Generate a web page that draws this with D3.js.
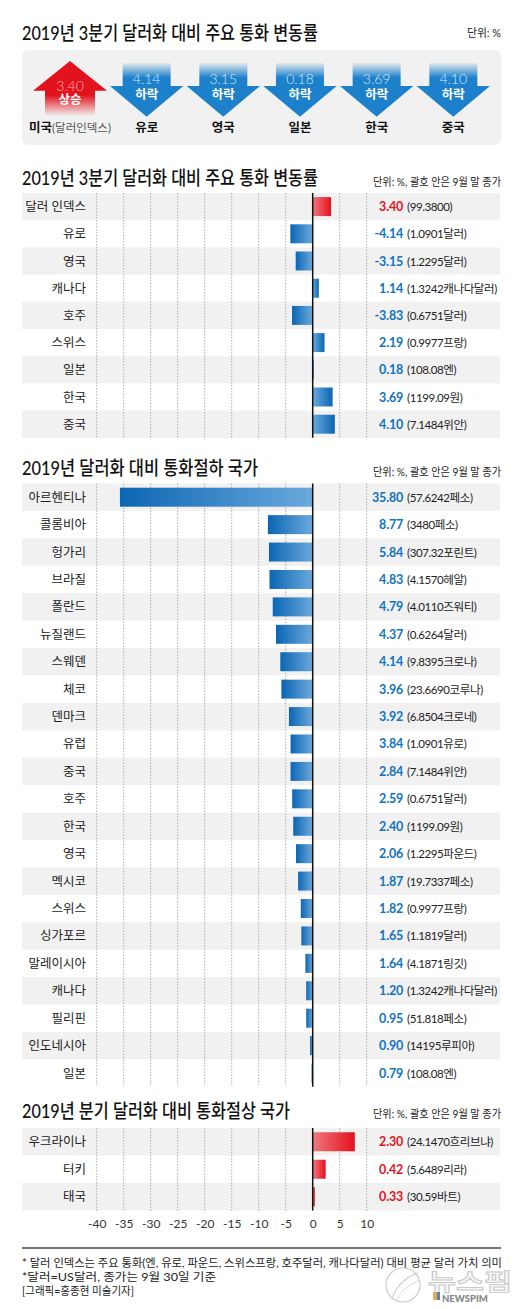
<!DOCTYPE html>
<html><head><meta charset="utf-8">
<script src="https://cdn.jsdelivr.net/npm/d3@7"></script>
<style>
html,body{margin:0;padding:0;background:#fff;}
svg{display:block;}
text{font-family:Lato,'Noto Sans CJK KR',sans-serif;}
</style></head>
<body>
<script>
// ---------- DATA ----------
const summaryCats = ['미국','유로','영국','일본','한국','중국'];
const summarySub = ['(달러인덱스)','','','','',''];
const summaryValues = [3.40,4.14,3.15,0.18,3.69,4.10];
const summaryDir = ['상승','하락','하락','하락','하락','하락'];

const q3Cats = ['달러 인덱스','유로','영국','캐나다','호주','스위스','일본','한국','중국'];
const q3Values = [3.40,-4.14,-3.15,1.14,-3.83,2.19,0.18,3.69,4.10];
const q3Close = ['(99.3800)','(1.0901달러)','(1.2295달러)','(1.3242캐나다달러)','(0.6751달러)','(0.9977프랑)','(108.08엔)','(1199.09원)','(7.1484위안)'];

const deprCats = ['아르헨티나','콜롬비아','헝가리','브라질','폴란드','뉴질랜드','스웨덴','체코','덴마크','유럽','중국','호주','한국','영국','멕시코','스위스','싱가포르','말레이시아','캐나다','필리핀','인도네시아','일본'];
const deprValues = [35.80,8.77,5.84,4.83,4.79,4.37,4.14,3.96,3.92,3.84,2.84,2.59,2.40,2.06,1.87,1.82,1.65,1.64,1.20,0.95,0.90,0.79];
// bar lengths as actually drawn in the reference graphic
const deprBars = [-35.7,-8.3,-8.1,-8.0,-7.4,-6.8,-6.0,-5.8,-4.4,-4.1,-4.1,-3.8,-3.6,-3.1,-2.7,-2.2,-2.1,-1.35,-1.2,-1.2,-0.5,-0.2];
const deprClose = ['(57.6242페소)','(3480페소)','(307.32포린트)','(4.1570헤알)','(4.0110즈워티)','(0.6264달러)','(9.8395크로나)','(23.6690코루나)','(6.8504크로네)','(1.0901유로)','(7.1484위안)','(0.6751달러)','(1199.09원)','(1.2295파운드)','(19.7337페소)','(0.9977프랑)','(1.1819달러)','(4.1871링깃)','(1.3242캐나다달러)','(51.818페소)','(14195루피아)','(108.08엔)'];

const apprCats = ['우크라이나','터키','태국'];
const apprValues = [2.30,0.42,0.33];
const apprBars = [7.8,2.4,0.4];
const apprClose = ['(24.1470흐리브냐)','(5.6489리라)','(30.59바트)'];

const axisTicks = [-40,-35,-30,-25,-20,-15,-10,-5,0,5,10];

const titles = ['2019년 3분기 달러화 대비 주요 통화 변동률','2019년 3분기 달러화 대비 주요 통화 변동률','2019년  달러화 대비 통화절하 국가','2019년 분기 달러화 대비 통화절상 국가'];
const notes = ['* 달러 인덱스는 주요 통화(엔, 유로, 파운드, 스위스프랑, 호주달러, 캐나다달러) 대비 평균 달러 가치 의미','*달러=US달러, 종가는 9월 30일 기준','[그래픽=홍종현 미술기자]'];

// ---------- SETUP ----------
const W = 530, H = 1309;
const RED = '#e3131d', BLUE = '#1273c0', ARROW_BLUE = '#1c80cb';
const svg = d3.select('body').append('svg').attr('width', W).attr('height', H);
const defs = svg.append('defs');

function lin(id, stops, attrs) {
  const g = defs.append('linearGradient').attr('id', id);
  Object.entries(attrs).forEach(([k, v]) => g.attr(k, v));
  stops.forEach(s => g.append('stop').attr('offset', s[0]).attr('stop-color', s[1]).attr('stop-opacity', s[2] == null ? 1 : s[2]));
}
lin('blueNeg', [[0, '#0b66b3'], [1, '#6ba9dd']], {x1: 0, x2: 1, y1: 0, y2: 0});
lin('bluePos', [[0, '#6ba9dd'], [1, '#0b66b3']], {x1: 0, x2: 1, y1: 0, y2: 0});
lin('redPos', [[0, '#f07880'], [1, '#e3121d']], {x1: 0, x2: 1, y1: 0, y2: 0});
lin('redArrow', [[0, RED], [0.62, RED], [1, RED, 0]], {x1: 0, x2: 0, y1: 0, y2: 1});
lin('blueArrow', [[0, ARROW_BLUE, 0.05], [0.28, ARROW_BLUE, 1], [1, ARROW_BLUE, 1]], {x1: 0, x2: 0, y1: 0, y2: 1});

function title(txt, y, len) {
  svg.append('text').attr('x', 22).attr('y', y).attr('dominant-baseline', 'central')
    .attr('font-size', 19).attr('font-weight', 500).attr('fill', '#111')
    .attr('textLength', len).attr('lengthAdjust', 'spacingAndGlyphs').text(txt);
}
function unit(txt, y, len) {
  svg.append('text').attr('x', 501).attr('y', y).attr('dominant-baseline', 'central')
    .attr('text-anchor', 'end').attr('font-size', 11).attr('fill', '#222')
    .attr('textLength', len).attr('lengthAdjust', 'spacingAndGlyphs').text(txt);
}

// ---------- SUMMARY BOX ----------
title(titles[0], 32, 296);
unit('단위: %', 32, 34);
svg.append('rect').attr('x', 22).attr('y', 50).attr('width', 479).attr('height', 95).attr('rx', 6).attr('fill', '#f1f1f1');

const sx = d3.scalePoint().domain(summaryCats).range([70, 453.3]);
summaryCats.forEach((c, i) => {
  const cx = sx(c);
  const g = svg.append('g');
  if (summaryDir[i] === '상승') {
    const pts = [[cx, 61], [cx + 37, 90.7], [cx + 25, 90.7], [cx + 25, 116], [cx - 25, 116], [cx - 25, 90.7], [cx - 37, 90.7]];
    g.append('path').attr('d', d3.line()(pts) + 'Z').attr('fill', 'url(#redArrow)');
    g.append('text').attr('x', cx).attr('y', 85).attr('text-anchor', 'middle').attr('dominant-baseline', 'central')
      .attr('font-size', 14).attr('font-weight', 300).attr('fill', '#ffb0b0').text(summaryValues[i].toFixed(2));
    g.append('text').attr('x', cx).attr('y', 99).attr('text-anchor', 'middle').attr('dominant-baseline', 'central')
      .attr('font-size', 12.5).attr('font-weight', 700).attr('fill', '#fff').text(summaryDir[i]);
  } else {
    const pts = [[cx - 24, 62.7], [cx + 24, 62.7], [cx + 24, 86], [cx + 36.7, 86], [cx, 116.7], [cx - 36.7, 86], [cx - 24, 86]];
    g.append('path').attr('d', d3.line()(pts) + 'Z').attr('fill', 'url(#blueArrow)');
    g.append('text').attr('x', cx).attr('y', 78.5).attr('text-anchor', 'middle').attr('dominant-baseline', 'central')
      .attr('font-size', 14).attr('font-weight', 300).attr('fill', '#cfe6f7').text(summaryValues[i].toFixed(2));
    g.append('text').attr('x', cx).attr('y', 94).attr('text-anchor', 'middle').attr('dominant-baseline', 'central')
      .attr('font-size', 12.5).attr('font-weight', 700).attr('fill', '#fff').text(summaryDir[i]);
  }
  const t = g.append('text').attr('x', cx).attr('y', 127).attr('text-anchor', 'middle').attr('dominant-baseline', 'central');
  t.append('tspan').attr('font-size', 12.5).attr('font-weight', 700).attr('fill', '#111').text(c);
  if (summarySub[i]) t.append('tspan').attr('font-size', 11.5).attr('fill', '#555').text(summarySub[i]);
});

// ---------- BAR PANELS ----------
const x = d3.scaleLinear().domain([-40, 10]).range([96.7, 366.7]);

function panel(top, pitch, cats, bars, vals, closes, colorOf, fmt) {
  const y = d3.scaleBand().domain(cats).range([top, top + cats.length * pitch]);
  const bottom = top + cats.length * pitch;
  const g = svg.append('g');
  g.selectAll('rect.band').data(cats.filter((d, i) => i % 2 === 0)).join('rect')
    .attr('x', 22).attr('width', 478).attr('y', d => y(d)).attr('height', y.bandwidth()).attr('fill', '#f1f1f1');
  g.selectAll('line.grid').data(axisTicks.filter(t => t !== 0)).join('line')
    .attr('x1', d => x(d)).attr('x2', d => x(d)).attr('y1', top).attr('y2', bottom)
    .attr('stroke', '#9a9a9a').attr('stroke-width', 0.8).attr('stroke-dasharray', '1.5,1.5');
  const bh = 19;
  g.selectAll('rect.bar').data(cats).join('rect')
    .attr('x', (d, i) => x(Math.min(0, bars[i])))
    .attr('width', (d, i) => Math.abs(x(bars[i]) - x(0)))
    .attr('y', d => y(d) + (y.bandwidth() - bh) / 2).attr('height', bh)
    .attr('fill', (d, i) => {
      const c = colorOf(i);
      if (c === 'red') return 'url(#redPos)';
      return bars[i] < 0 ? 'url(#blueNeg)' : 'url(#bluePos)';
    });
  g.append('line').attr('x1', x(0)).attr('x2', x(0)).attr('y1', top).attr('y2', bottom)
    .attr('stroke', '#111').attr('stroke-width', 1.5);
  g.selectAll('text.lab').data(cats).join('text')
    .attr('x', 86).attr('y', d => y(d) + y.bandwidth() / 2).attr('text-anchor', 'end').attr('dominant-baseline', 'central')
    .attr('font-size', 12.5).attr('fill', '#222').text(d => d);
  g.selectAll('text.val').data(cats).join('text')
    .attr('x', 403).attr('y', d => y(d) + y.bandwidth() / 2).attr('text-anchor', 'end').attr('dominant-baseline', 'central')
    .attr('font-size', 12.5).attr('font-weight', 700).attr('letter-spacing', -0.2)
    .attr('fill', (d, i) => colorOf(i) === 'red' ? RED : BLUE).text((d, i) => fmt(vals[i]));
  g.selectAll('text.close').data(cats).join('text')
    .attr('x', 407).attr('y', d => y(d) + y.bandwidth() / 2).attr('dominant-baseline', 'central')
    .attr('font-size', 11.5).attr('letter-spacing', -0.4).attr('fill', '#222').text((d, i) => closes[i]);
}

title(titles[1], 177, 296);
unit('단위: %, 괄호 안은 9월 말 종가', 181.5, 128);
panel(193, 27.2, q3Cats, q3Values, q3Values, q3Close, i => i === 0 ? 'red' : 'blue', v => v.toFixed(2));

title(titles[2], 467, 236);
unit('단위: %, 괄호 안은 9월 말 종가', 471.5, 128);
panel(483.5, 27.42, deprCats, deprBars, deprValues, deprClose, () => 'blue', v => v.toFixed(2));

title(titles[3], 1110, 268);
unit('단위: %, 괄호 안은 9월 말 종가', 1113, 128);
panel(1128, 27.5, apprCats, apprBars, apprValues, apprClose, () => 'red', v => v.toFixed(2));

// ---------- AXIS ----------
const ax = svg.append('g').attr('transform', 'translate(0,1216)')
  .call(d3.axisBottom(x).tickValues(axisTicks).tickSize(0).tickPadding(0).tickFormat(d => String(d)));
ax.select('.domain').remove();
ax.selectAll('text').attr('font-size', 12).attr('fill', '#333').attr('font-family', 'Lato, sans-serif')
  .attr('dy', 0).attr('y', 7).attr('dominant-baseline', 'central');

svg.append('line').attr('x1', 22).attr('x2', 501).attr('y1', 1248).attr('y2', 1248).attr('stroke', '#444').attr('stroke-width', 1.5);

// ---------- NOTES ----------
const noteY = [1262, 1276, 1290];
const noteLen = [480, 194, 112];
notes.forEach((n, i) => {
  svg.append('text').attr('x', 22).attr('y', noteY[i]).attr('dominant-baseline', 'central')
    .attr('font-size', 11).attr('fill', '#222').attr('textLength', noteLen[i]).attr('lengthAdjust', 'spacingAndGlyphs').text(n);
});

// ---------- WATERMARK ----------
const wm = svg.append('g').attr('opacity', 0.9);
wm.append('circle').attr('cx', 403).attr('cy', 1285).attr('r', 17).attr('fill', 'none').attr('stroke', '#c8c8c8').attr('stroke-width', 1.2);
wm.append('path').attr('d', 'M392,1299 Q398,1280 418,1273').attr('fill', 'none').attr('stroke', '#c8c8c8').attr('stroke-width', 1.2);
wm.append('path').attr('d', 'M396,1300 Q404,1286 419,1281').attr('fill', 'none').attr('stroke', '#d8d8d8').attr('stroke-width', 1);
wm.append('text').attr('x', 428).attr('y', 1281).attr('dominant-baseline', 'central').attr('font-size', 23).attr('font-weight', 700)
  .attr('fill', '#f4f4f4').attr('stroke', '#c4c4c4').attr('stroke-width', 0.9).attr('font-family', "'Noto Sans CJK KR',sans-serif")
  .attr('textLength', 84).attr('lengthAdjust', 'spacingAndGlyphs').text('뉴스핌');
wm.append('rect').attr('x', 433).attr('y', 1292).attr('width', 4).attr('height', 8).attr('fill', '#e8a040');
wm.append('rect').attr('x', 437).attr('y', 1292).attr('width', 3).attr('height', 8).attr('fill', '#3a7cc0');
wm.append('text').attr('x', 442).attr('y', 1298).attr('dominant-baseline', 'central').attr('font-size', 9.5).attr('font-weight', 900)
  .attr('fill', '#777').attr('font-family', 'Lato, sans-serif').text('NEWSPIM');
</script>
</body></html>
